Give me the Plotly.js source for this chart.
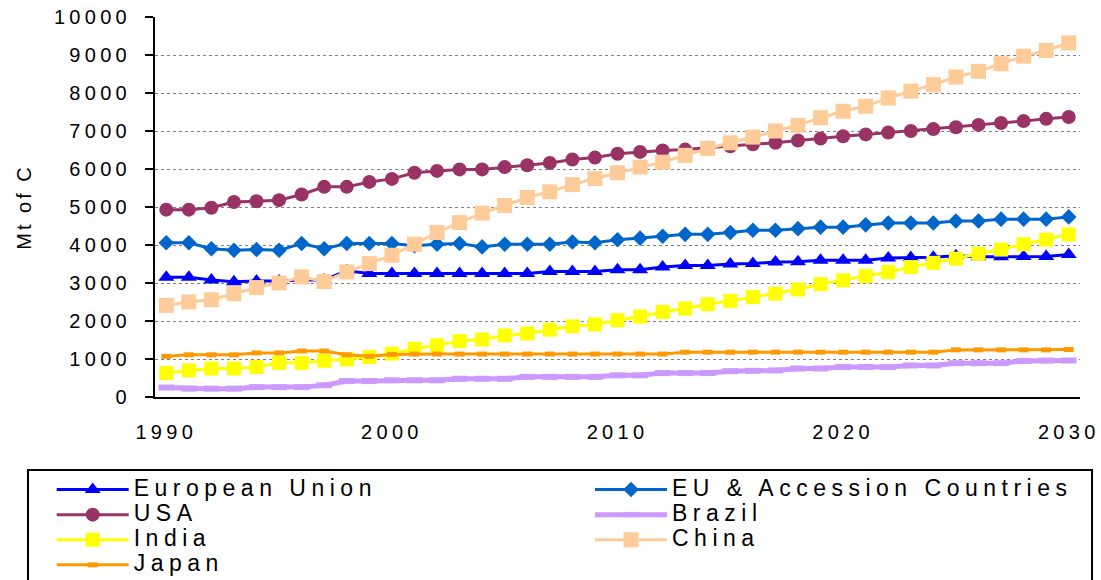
<!DOCTYPE html>
<html><head><meta charset="utf-8">
<script src="https://cdn.plot.ly/plotly-3.0.1.min.js"></script>
<style>
html,body{margin:0;padding:0;background:#fff;}
#chart{width:1101px;height:580px;}
.xtick text, .ytick text { letter-spacing: 4.3px; }
.ytitle { letter-spacing: 3px; }
.infolayer [class*="legend"] text { font-size: 23px !important; letter-spacing: 5.5px; }
.infolayer .scrollbox { clip-path: none !important; }
</style></head><body><div id="chart"></div><script>
const years = [1990,1991,1992,1993,1994,1995,1996,1997,1998,1999,
  2000,2001,2002,2003,2004,2005,2006,2007,2008,2009,
  2010,2011,2012,2013,2014,2015,2016,2017,2018,2019,
  2020,2021,2022,2023,2024,2025,2026,2027,2028,2029,2030];
const tickYears = [1990, 2000, 2010, 2020, 2030];
const tickLabels = ['1990', '2000', '2010', '2020', '2030'];
const seriesNames = ['European Union', 'EU & Accession Countries', 'USA', 'Brazil', 'India', 'China', 'Japan'];

const euValues = [3150,3150,3080,3030,3050,3050,3080,3080,3320,3250,
  3250,3250,3250,3250,3250,3250,3250,3300,3300,3300,
  3350,3350,3420,3460,3460,3500,3510,3550,3560,3600,
  3600,3600,3660,3670,3680,3720,3690,3690,3700,3700,3750];
const euAccValues = [4060,4060,3900,3860,3880,3860,4040,3900,4040,4040,
  4040,3980,4020,4040,3950,4020,4020,4020,4080,4060,
  4140,4180,4230,4280,4280,4330,4390,4390,4430,4470,
  4470,4530,4580,4580,4580,4630,4630,4680,4680,4680,4740];
const usaValues = [4930,4930,4980,5130,5150,5180,5330,5530,5530,5660,
  5740,5900,5950,5990,5990,6050,6100,6160,6250,6300,
  6400,6450,6490,6510,6560,6600,6650,6690,6750,6800,
  6860,6910,6960,7000,7050,7100,7160,7210,7260,7320,7370];
const brazilValues = [250,220,220,220,260,260,260,310,420,420,
  440,440,440,480,480,480,530,530,530,530,
  570,570,630,630,630,680,690,700,750,750,
  790,790,790,830,830,890,890,890,950,960,960];
const indiaValues = [630,700,750,750,790,900,900,950,990,1050,
  1140,1270,1360,1470,1510,1620,1670,1770,1860,1910,
  2020,2120,2240,2330,2440,2530,2630,2720,2830,2970,
  3070,3180,3290,3420,3530,3640,3770,3880,4020,4140,4280];
const chinaValues = [2410,2500,2560,2720,2880,3000,3160,3040,3290,3510,
  3730,4020,4330,4590,4840,5040,5250,5400,5590,5750,
  5900,6050,6180,6360,6540,6690,6840,7000,7150,7350,
  7520,7650,7870,8050,8220,8420,8570,8770,8970,9120,9320];
const japanValues = [1070,1110,1110,1110,1160,1160,1210,1210,1110,1070,
  1120,1130,1130,1130,1130,1130,1130,1130,1130,1130,
  1130,1130,1130,1180,1180,1180,1180,1180,1180,1180,
  1180,1180,1180,1180,1180,1240,1240,1240,1240,1240,1250];

const FONT = 'Liberation Sans, Arial, sans-serif';

function filled(name, y, color, symbol, size, legend) {
  return {type:'scatter', mode:'lines+markers', name:name, x:years, y:y, legend:legend,
    line:{color:color, width:3},
    marker:{symbol:symbol, size:size, color:color, line:{width:0}}};
}
function dashed(name, y, color, lineW, size, markW, legend) {
  return {type:'scatter', mode:'lines+markers', name:name, x:years, y:y, legend:legend,
    line:{color:color, width:lineW},
    marker:{symbol:'line-ew', size:size, color:color, line:{width:markW, color:color}}};
}

const traces = [
  filled(seriesNames[0], euValues, '#0000FF', 'triangle-up', 14, 'legend'),
  filled(seriesNames[1], euAccValues, '#0066CC', 'diamond', 12, 'legend2'),
  filled(seriesNames[2], usaValues, '#993366', 'circle', 14, 'legend'),
  dashed(seriesNames[3], brazilValues, '#CC99FF', 5, 11, 6, 'legend2'),
  filled(seriesNames[4], indiaValues, '#FFFF00', 'square', 14, 'legend'),
  filled(seriesNames[5], chinaValues, '#FFCC99', 'square', 15, 'legend2'),
  dashed(seriesNames[6], japanValues, '#FF9900', 3, 7, 5, 'legend')
];

const legendCommon = {
  orientation:'v', xanchor:'left', yanchor:'top', y:-0.19737,
  bgcolor:'rgba(0,0,0,0)', borderwidth:0, itemwidth:72, tracegroupgap:0,
  font:{family:FONT, size:17, color:'#000'}, itemclick:false, itemdoubleclick:false
};

const layout = {
  width:1101, height:580,
  margin:{l:155, r:21, t:17, b:183, autoexpand:false},
  paper_bgcolor:'#fff', plot_bgcolor:'#fff',
  font:{family:FONT, color:'#000'},
  showlegend:true,
  legend:Object.assign({}, legendCommon, {x:-0.11168}),
  legend2:Object.assign({}, legendCommon, {x:0.47027}),
  xaxis:{range:[1989.5, 2030.5], tickmode:'array', tickvals:tickYears, ticktext:tickLabels,
    ticks:'', showline:true, linecolor:'#000', linewidth:2, showgrid:false, zeroline:false,
    tickfont:{family:FONT, size:20, color:'#000'}, ticklabelstandoff:16, fixedrange:true},
  xaxis2:{overlaying:'x', anchor:'y', side:'bottom', range:[1989.5, 2030.5],
    tickmode:'linear', tick0:1989.5, dtick:5, ticks:'outside', ticklen:6, tickwidth:2, tickcolor:'#000',
    showticklabels:false, showline:false, showgrid:false, zeroline:false, fixedrange:true},
  yaxis:{range:[0, 10000], tickmode:'linear', tick0:0, dtick:1000, tickformat:'d',
    ticks:'outside', ticklen:8, tickwidth:2, tickcolor:'#000',
    showline:true, linecolor:'#000', linewidth:2, zeroline:false,
    showgrid:true, gridcolor:'#808080', griddash:'dot', gridwidth:1,
    tickfont:{family:FONT, size:20, color:'#000'}, ticklabelstandoff:10,
    title:{text:'Mt of C', font:{family:FONT, size:20, color:'#000'}, standoff:17}, fixedrange:true},
  shapes:[{type:'rect', xref:'paper', yref:'paper', x0:-0.1373, x1:1.0130, y0:-0.19211, y1:-0.6,
    line:{color:'#000', width:2}, fillcolor:'rgba(0,0,0,0)', layer:'above'}]
};

Plotly.newPlot('chart', traces, layout, {displayModeBar:false, staticPlot:true});
</script></body></html>
